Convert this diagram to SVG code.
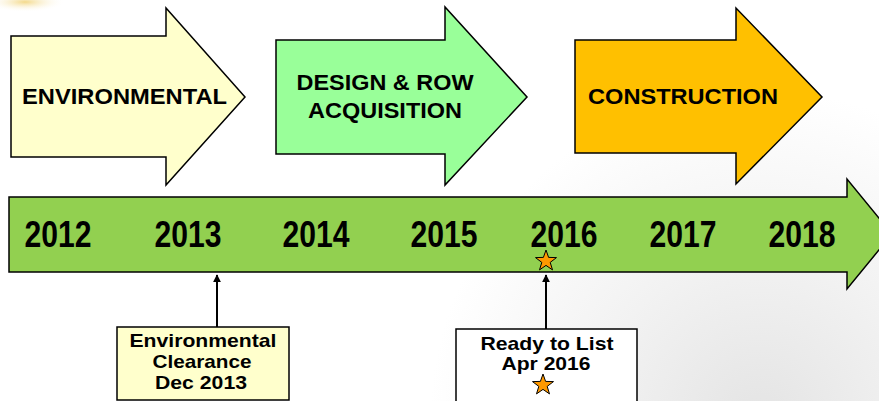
<svg xmlns="http://www.w3.org/2000/svg" width="879" height="401" viewBox="0 0 879 401">
<defs>
<style>
.bar{stroke:#000;stroke-width:1.5;stroke-linejoin:miter}
.h{font-family:"Liberation Sans",Arial,sans-serif;font-weight:bold;font-size:22px;fill:#000;text-anchor:middle}
.yr{font-family:"Liberation Sans",Arial,sans-serif;font-weight:bold;font-size:36px;fill:#000;text-anchor:middle}
.b{font-family:"Liberation Sans",Arial,sans-serif;font-weight:bold;font-size:19px;fill:#000;text-anchor:middle}
.star{fill:#FF9900;stroke:#000;stroke-width:1}
.conn{stroke:#000;stroke-width:2;fill:none}
</style>
<marker id="ah" viewBox="0 0 10 10" refX="9" refY="5" markerWidth="4" markerHeight="4" orient="auto">
<path d="M0,0 L10,5 L0,10 z" fill="#000"/>
</marker>
<radialGradient id="bg" gradientUnits="userSpaceOnUse" cx="760" cy="420" r="330">
<stop offset="0" stop-color="#e4e4e4"/>
<stop offset="0.5" stop-color="#f2f2f2"/>
<stop offset="1" stop-color="#ffffff"/>
</radialGradient>
<radialGradient id="glow" cx="0.5" cy="0.5" r="0.5">
<stop offset="0" stop-color="#f3d98a"/>
<stop offset="1" stop-color="#ffffff" stop-opacity="0"/>
</radialGradient>
<polygon id="st" points="0,-11 2.6,-3.6 10.5,-3.4 4.2,1.4 6.5,8.9 0,4.4 -6.5,8.9 -4.2,1.4 -10.5,-3.4 -2.6,-3.6"/>
</defs>
<rect width="879" height="401" fill="url(#bg)"/>
<ellipse cx="25" cy="2" rx="40" ry="10" fill="url(#glow)"/>

<g id="phase-environmental">
<polygon class="bar" fill="#FFFFCC" points="11,36 166,36 166,8 245,97 166,185 166,157 11,157"/>
<text class="h" x="124.5" y="104" textLength="205" lengthAdjust="spacingAndGlyphs">ENVIRONMENTAL</text>
</g>
<g id="phase-design">
<polygon class="bar" fill="#99FF99" points="276,40 445,40 445,7 527,97 445,185 445,154 276,154"/>
<text class="h" x="385" y="90" textLength="177" lengthAdjust="spacingAndGlyphs">DESIGN &amp; ROW</text>
<text class="h" x="385" y="118" textLength="154" lengthAdjust="spacingAndGlyphs">ACQUISITION</text>
</g>
<g id="phase-construction">
<polygon class="bar" fill="#FFC000" points="575,40 736,40 736,8 822,97 736,184 736,153 575,153"/>
<text class="h" x="683" y="104" textLength="190" lengthAdjust="spacingAndGlyphs">CONSTRUCTION</text>
</g>

<g id="timeline">
<polygon class="bar" fill="#92D050" points="9,197 847,197 847,179 892,234 847,289 847,272 9,272"/>
<text class="yr" x="58" y="247" textLength="67" lengthAdjust="spacingAndGlyphs">2012</text>
<text class="yr" x="188" y="247" textLength="67" lengthAdjust="spacingAndGlyphs">2013</text>
<text class="yr" x="316" y="247" textLength="67" lengthAdjust="spacingAndGlyphs">2014</text>
<text class="yr" x="444" y="247" textLength="67" lengthAdjust="spacingAndGlyphs">2015</text>
<text class="yr" x="564" y="247" textLength="67" lengthAdjust="spacingAndGlyphs">2016</text>
<text class="yr" x="683" y="247" textLength="67" lengthAdjust="spacingAndGlyphs">2017</text>
<text class="yr" x="802" y="247" textLength="67" lengthAdjust="spacingAndGlyphs">2018</text>
<use href="#st" class="star" x="546" y="261"/>
</g>

<g id="connectors">
<line class="conn" x1="217" y1="327" x2="217" y2="275" marker-end="url(#ah)"/>
<line class="conn" x1="546" y1="329" x2="546" y2="275" marker-end="url(#ah)"/>
</g>

<g id="milestone-clearance">
<rect x="117" y="327" width="172" height="73" fill="#FFFFCC" stroke="#000" stroke-width="1.5"/>
<text class="b" x="203" y="347" textLength="147" lengthAdjust="spacingAndGlyphs">Environmental</text>
<text class="b" x="202" y="368" textLength="99" lengthAdjust="spacingAndGlyphs">Clearance</text>
<text class="b" x="201" y="389" textLength="92" lengthAdjust="spacingAndGlyphs">Dec 2013</text>
</g>
<g id="milestone-ready">
<rect x="456" y="329" width="181" height="75" fill="#fff" stroke="#000" stroke-width="1.5"/>
<text class="b" x="547" y="350" textLength="133" lengthAdjust="spacingAndGlyphs">Ready to List</text>
<text class="b" x="546" y="370" textLength="89" lengthAdjust="spacingAndGlyphs">Apr 2016</text>
<use href="#st" class="star" x="543" y="385"/>
</g>
</svg>
